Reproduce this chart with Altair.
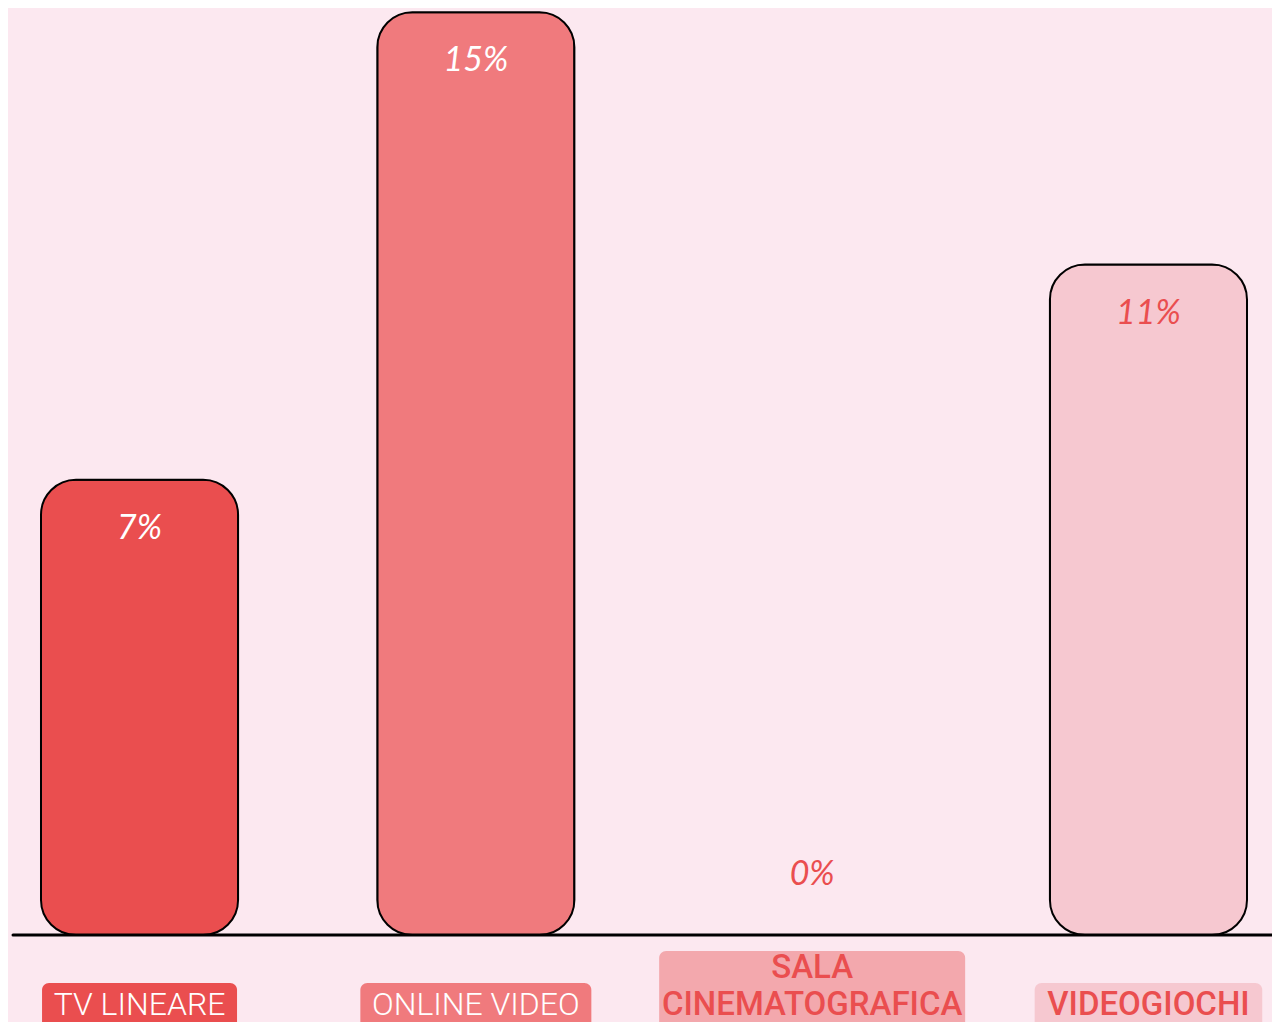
import altair as alt
import pandas as pd

categories = ["TV LINEARE", "ONLINE VIDEO", "SALA\nCINEMATOGRAFICA", "VIDEOGIOCHI"]
shares = [7.4, 15.0, 0.0, 10.9]
fill_colors = ["#ea4e4f", "#f07a7d", "#f3a8ad", "#f6c8d0"]
text_colors = ["#ffffff", "#ffffff", "#ea4e4f", "#ea4e4f"]

df = pd.DataFrame({"cat": categories, "val": shares})

base = alt.Chart(df).transform_calculate(
    lab="format(datum.val, '.0f') + '%'",
)

x = alt.X("cat:N", sort=categories,
          scale=alt.Scale(domain=categories, range=[33, 1239],
                          paddingInner=0.414, paddingOuter=0),
          axis=None)
y = alt.Y("val:Q", scale=alt.Scale(domain=[0, 15.07]), axis=None)
fill = alt.Fill("cat:N", scale=alt.Scale(domain=categories, range=fill_colors), legend=None)
tcolor = alt.Color("cat:N", scale=alt.Scale(domain=categories, range=text_colors), legend=None)

bars = base.transform_filter("datum.val > 0").mark_bar(
    cornerRadius=35, stroke="black", strokeWidth=2
).encode(x=x, y=y, fill=fill)

axis_line = base.transform_filter("datum.val == 0").mark_rule(
    color="black", strokeWidth=3, strokeCap="round"
).encode(x=alt.value(5), x2=alt.value(1264), y=alt.value(927))

val_style = dict(font="Lato", fontSize=34, fontStyle="italic", fontWeight=400,
                 baseline="middle", align="center")
val_bars = base.transform_filter("datum.val > 0").mark_text(dy=49, **val_style).encode(
    x=x, y=y, text="lab:N", color=tcolor)
val_zero = base.transform_filter("datum.val == 0").mark_text(dy=-60, **val_style).encode(
    x=x, y=y, text="lab:N", color=tcolor)

# label boxes below the baseline, width from the longest line of each label
boxes = []
labels = []
for i, c in enumerate(categories):
    lines = c.split("\n")
    n = max(len(s) for s in lines)
    light = i < 2
    w = n * 18 + 15 if light else n * 19.6 + 12
    top = 975 - 32 * (len(lines) - 1)
    ty = 997 - 37 * (len(lines) - 1)
    sel = alt.FieldEqualPredicate(field="cat", equal=c)
    boxes.append(
        base.transform_filter(sel)
        .mark_bar(cornerRadius=7, width=w)
        .encode(x=x, y=alt.value(top), y2=alt.value(1040), fill=fill)
    )
    labels.append(
        base.transform_filter(sel)
        .mark_text(font="Roboto", fontSize=32 if light else 33,
                   fontWeight=300 if light else 500,
                   baseline="middle", align="center", lineBreak="\n", lineHeight=37)
        .encode(x=x, y=alt.value(ty), text="cat:N", color=tcolor)
    )

chart = alt.layer(
    bars, axis_line, val_bars, val_zero, *boxes, *labels
).properties(
    width=1264, height=927,
    background="#fce8f0",
    padding={"left": 0, "top": 0, "right": 0, "bottom": 87},
    autosize=alt.AutoSizeParams(type="none"),
).configure_view(stroke=None)

chart.save("out.html", embed_options={"renderer": "svg", "actions": False})
